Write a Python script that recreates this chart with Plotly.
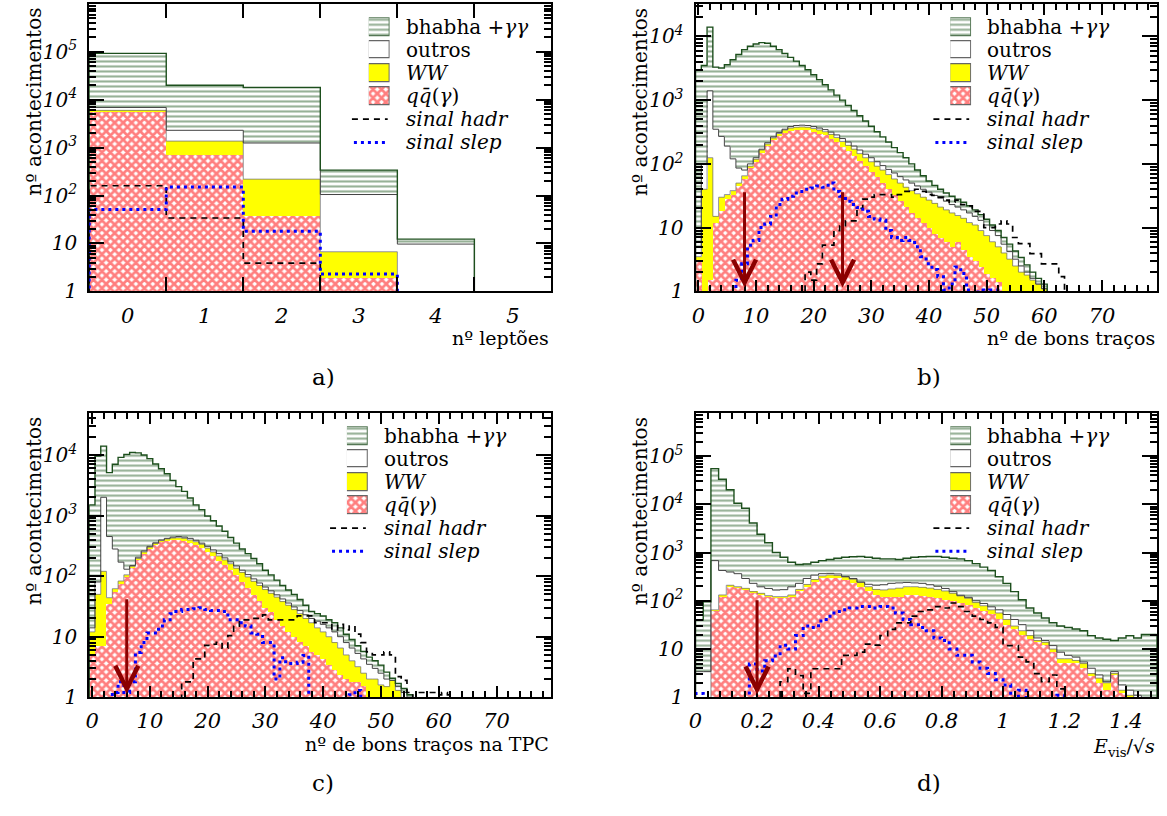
import numpy as np
import plotly.graph_objects as go

W, H = 1167, 816
FONT = "DejaVu Serif"

# ---------------- data ----------------
# panel a : number of leptons (bins 0..5)
a_lo, a_bw = -0.5, 1.0
a_bhabha = [93000, 20000, 18000, 340, 12.3, 0]
a_outros = [6900, 2300, 1250, 105, 9.7, 0]
a_ww = [6000, 1370, 220, 6.7, 0, 0]
a_qq = [5600, 690, 37, 1.9, 0, 0]
a_hadr = [160, 34, 3.9, 0, 0, 0]
a_slep = [51, 150, 18, 2.3, 0, 0]

# panel b : number of good tracks (bins 0..79)
b_lo, b_bw, b_n = -0.5, 1.0, 80
b_bhabha = [3000, 3500, 14000, 3300, 3200, 3600, 4300, 5200, 6200, 7000, 7600, 8000, 7800, 7000, 6200,
            5400, 4700, 4100, 3500, 3000, 2500, 2100, 1750, 1450, 1200, 1000, 830, 690, 570, 470, 390,
            320, 265, 220, 180, 150, 125, 100, 80, 65, 54, 46, 40, 35, 31, 28, 25, 22, 19, 16, 13.5,
            11, 9, 7, 5.5, 4.3, 3.4, 2.6, 2, 1.6, 1.3]
b_outros = [5, 100, 1400, 350, 270, 190, 120, 86, 80, 100, 125, 170, 215, 265, 310, 350, 385, 400, 405,
            400, 385, 365, 345, 315, 285, 250, 220, 190, 165, 142, 125, 108, 94, 82, 72, 63, 56, 50, 45,
            40, 36, 32, 29, 26, 23, 21, 19, 17, 15, 13, 11, 9, 7.5, 5.5, 4.2, 3.2, 2.5, 2, 1.6, 1.3, 1.1]
b_ww = [3.5, 40, 125, 15, 30, 33, 38, 50, 65, 92, 118, 165, 205, 255, 300, 340, 365, 375, 380, 375, 360,
        340, 320, 290, 260, 225, 195, 170, 145, 125, 108, 92, 80, 68, 58, 50, 43, 38, 34, 30, 27, 24, 21,
        19, 17, 15.5, 14, 12, 11, 9, 7.5, 6, 5, 4, 3.2, 2.5, 2, 1.8, 1.5, 1.3, 1.1]
b_qq = [3, 0, 1.5, 12, 18, 28, 33, 45, 58, 85, 108, 150, 190, 235, 275, 310, 330, 340, 345, 340, 320, 300,
        280, 250, 220, 185, 160, 135, 110, 92, 76, 62, 50, 40, 33, 26, 21, 17, 14, 12, 10, 8, 7, 6, 5, 6,
        4.5, 3.5, 3, 2.4, 1.9, 1.6, 1.4]
b_hadr = [0] * 19 + [2, 1.5, 2.7, 5.3, 5.3, 9, 10.7, 12.8, 12.8, 20, 28, 30, 33, 33, 33, 30, 33, 37, 37, 40,
                     37, 33, 32, 30, 27, 25, 27, 23, 22, 18, 18, 10, 10, 11.4, 12.8, 11.4, 7, 5.6, 5.6, 3.9,
                     3.9, 2.7, 2.7, 2.7, 1.7]
b_slep = [0] * 7 + [1.5, 2.7, 5.3, 6.3, 10, 11.4, 15, 23, 28, 31, 35, 37, 40, 42, 45, 43, 50, 37, 31, 26, 23,
                    20.6, 18, 15, 13.6, 13, 9, 7, 6.3, 7, 6.3, 5, 3.5, 2.7, 2.2, 1.7, 1.05, 1.3, 2.4, 1.9,
                    1.05, 0, 1.05, 0, 1.05, 1.05]
b_cuts = [8, 25]
b_cut_top = 38

# panel c : number of good TPC tracks (bins 0..79)
c_lo, c_bw, c_n = -0.5, 1.0, 80
c_bhabha = [1500, 9600, 14000, 5100, 7000, 9100, 10200, 11000, 10800, 10000, 8700, 7100, 5900, 4900, 3800,
            3000, 2500, 1950, 1500, 1250, 980, 820, 670, 550, 435, 350, 280, 235, 195, 160, 125, 105, 86,
            70, 59, 50, 41, 33, 26, 24, 22, 19, 17, 14, 11, 9, 7.1, 5.7, 4.6, 4, 3.4, 2.6, 2.06, 1.7, 1.4, 1.1]
c_outros = [14, 80, 2000, 450, 280, 170, 130, 150, 205, 260, 310, 355, 395, 420, 440, 450, 440, 420, 390,
            350, 310, 270, 235, 200, 172, 147, 125, 106, 90, 77, 66, 57, 49, 42, 36, 31, 27, 23, 20, 18, 16,
            14, 12, 10, 8, 6.5, 5.3, 4.3, 3.5, 3, 2.5, 2, 1.9, 1.5, 1.2, 1]
c_ww = [12, 50, 120, 44, 62, 83, 105, 145, 195, 250, 300, 345, 385, 410, 425, 430, 420, 395, 370, 335, 290,
        250, 215, 185, 160, 135, 115, 97, 82, 70, 60, 52, 45, 38, 33, 28, 24, 20, 17, 14, 12, 10, 8, 6.5, 5,
        4, 3.2, 2.5, 2, 2, 1.6, 1.5, 1.9, 1.3]
c_qq = [4.9, 7, 7, 35, 55, 75, 98, 133, 182, 235, 280, 320, 360, 385, 400, 400, 380, 350, 320, 290, 250, 215,
        180, 150, 125, 104, 81, 63, 49, 38, 30, 25, 19, 15, 12, 10, 8, 7.1, 5.6, 4.9, 4.2, 3.4, 2.8, 2.3, 2,
        1.8, 1.8, 1.5]
c_hadr = [0] * 16 + [1.8, 1.8, 4.3, 4.3, 7.2, 7.5, 8.1, 6.5, 10.4, 15, 19, 19, 20, 20, 23, 19, 19, 19, 19, 19,
                     22, 22, 22, 17, 17, 17, 13, 16, 13, 15, 11, 8, 5.6, 5, 5, 5.6, 5, 2.2, 1.9, 1.2, 0, 1.2,
                     1.2, 1.2, 1.1, 1.2, 1.1]
c_slep = [0] * 4 + [1.2, 1.8, 1.2, 1.8, 5.5, 8, 11.5, 11.5, 15, 19, 24, 26, 28, 28, 29, 30, 28, 27, 27, 26, 19,
                    19, 17, 15, 11.5, 11, 8, 8, 2, 4.5, 3.6, 3.6, 3.8, 4.9, 0, 0, 0, 0, 0, 0, 0, 1.1, 1.3]
c_cuts = [6]
c_cut_top = 44

# panel d : E_vis / sqrt(s) (bins of 0.025 from 0 to 1.5)
d_lo, d_bw, d_n = 0.0, 0.025, 60
d_bhabha = [40, 95, 55000, 33000, 20000, 10500, 8300, 4100, 2400, 1600, 1000, 800, 630, 565, 580, 630, 680,
            720, 760, 800, 820, 830, 800, 760, 740, 740, 720, 760, 800, 820, 830, 830, 800, 760, 740, 680,
            590, 500, 425, 315, 230, 155, 105, 71, 56, 44, 35, 30, 28, 26, 24, 19, 17, 16, 15, 17, 19, 17,
            20, 20]
d_outros = [3.4, 3.4, 680, 425, 395, 365, 290, 230, 195, 180, 167, 170, 195, 230, 290, 340, 365, 370, 360,
            320, 290, 245, 220, 210, 215, 230, 235, 240, 235, 230, 215, 200, 180, 155, 130, 118, 100, 88, 75,
            65, 52, 41, 32, 24, 17, 15, 11.8, 8.6, 7.4, 6.8, 5.4, 4, 2.9, 2.1, 3.4, 1.8, 1.4, 1.1]
d_ww = [0, 0, 65, 132, 210, 196, 181, 155, 143, 128, 122, 122, 132, 172, 218, 276, 328, 344, 334, 310, 280,
        240, 196, 172, 168, 176, 183, 196, 196, 190, 183, 172, 160, 143, 126, 113, 92, 79, 65, 56, 41, 30,
        24, 19, 15, 13.8, 10, 6.3, 6.3, 5.8, 5, 3.1, 2.5, 2.0, 3.1, 1.4, 1.1]
d_qq = [0, 0, 60, 122, 195, 180, 167, 143, 132, 122, 113, 113, 122, 155, 195, 247, 290, 300, 290, 270, 235,
        195, 155, 132, 120, 120, 122, 132, 132, 125, 122, 113, 105, 97, 90, 80, 71, 60, 52, 41, 32, 26, 19,
        16, 13.8, 11.8, 8.6, 5, 5, 5, 4, 2.7, 1.95, 1.4, 2.9, 1.2]
d_hadr = [0] * 11 + [2.1, 3.9, 2.8, 1.2, 3.9, 3.9, 3.9, 3.9, 7.4, 7.4, 8.6, 12.7, 12, 19, 25.6, 35, 35, 48,
                     60, 65, 76, 71, 90, 76, 60, 48, 41, 35, 28, 11.8, 11.8, 6.8, 5.4, 3.1, 2.1, 2.9, 1.5]
d_slep = [1.2, 0, 0, 0, 0, 0, 0, 4.9, 3.5, 5.7, 7.2, 12, 10, 19, 30, 28, 38, 48, 60, 65, 71, 76, 76, 71, 76,
          71, 56, 41, 32, 28, 24, 17, 15, 10, 7.4, 7.4, 5.4, 4, 3.1, 2.3, 1.8, 0, 1.4, 0, 0, 0, 0, 1.1]
d_cuts = [0.2]
d_cut_top = 110

# ---------------- styling ----------------
GREEN = "#2a5f2a"
GREEN_LINE = "#1d4f1d"
RED = "#ff0000"
YELLOW = "#ffff00"
ARROW = "#8b0000"
XTICKSIZE = 21
YTICKSIZE = 20


def px(x):
    return x / W


def py(y):
    return 1 - y / H


def pad(v, n):
    v = list(v)
    return v + [0] * (n - len(v))


def step_xy(edges, vals, floor=0.3):
    v = [x if x > 0 else floor for x in vals]
    xs = [edges[0]] + list(edges[:-1]) + [edges[-1]]
    ys = [floor] + v + [floor]
    return xs, ys


GREEN_PAT = dict(shape="-", fgcolor=GREEN, bgcolor="white", size=5, solidity=0.42)
RED_PAT = dict(shape="x", fgcolor=RED, bgcolor="white", size=6, solidity=0.7)

panels = [
    dict(key="a", lo=a_lo, bw=a_bw, n=6, data=(a_bhabha, a_outros, a_ww, a_qq, a_hadr, a_slep),
         xd=(82.7, 547.7), yd=(4, 295.7), xr=[-0.5, 5.5], yr=[0, 6.0], ymaxdec=5,
         xtitle="nº leptões", tdy=47, cuts=[], cut_top=None, legx=0, legy=0, ytx=27),
    dict(key="b", lo=b_lo, bw=b_bw, n=b_n, data=(b_bhabha, b_outros, b_ww, b_qq, b_hadr, b_slep),
         xd=(692.7, 1156.7), yd=(4, 295.7), xr=[-0.5, 79.5], yr=[0, 4.51], ymaxdec=4,
         xtitle="nº de bons traços", tdy=47, cuts=b_cuts, cut_top=b_cut_top, legx=585, legy=0, ytx=637),
    dict(key="c", lo=c_lo, bw=c_bw, n=c_n, data=(c_bhabha, c_outros, c_ww, c_qq, c_hadr, c_slep),
         xd=(82.7, 547.7), yd=(419.3, 707.7), xr=[-0.5, 79.5], yr=[0, 4.69], ymaxdec=4,
         xtitle="nº de bons traços na TPC", tdy=47, cuts=c_cuts, cut_top=c_cut_top, legx=-22, legy=415,
         ytx=27),
    dict(key="d", lo=d_lo, bw=d_bw, n=d_n, data=(d_bhabha, d_outros, d_ww, d_qq, d_hadr, d_slep),
         xd=(692.7, 1156.7), yd=(419.3, 707.7), xr=[0, 1.5], yr=[0, 5.89], ymaxdec=5,
         xtitle="<i>E</i><sub>vis</sub>/√<i>s</i>", tdy=51, cuts=d_cuts, cut_top=d_cut_top, legx=585,
         legy=415, ytx=637),
]

fig = go.Figure()
layout = dict(width=W, height=H, margin=dict(l=0, r=0, t=0, b=0), paper_bgcolor="white",
              plot_bgcolor="white", barmode="overlay", bargap=0, showlegend=False,
              font=dict(family=FONT, color="black"))
annotations = []
shapes = []

minor_y = [k * 10 ** e for e in range(0, 7) for k in range(2, 10)]

for i, p in enumerate(panels):
    idx = i + 1
    xa = "x" if idx == 1 else f"x{idx}"
    ya = "y" if idx == 1 else f"y{idx}"
    n = p["n"]
    edges = p["lo"] + p["bw"] * np.arange(n + 1)
    centers = edges[:-1] + p["bw"] / 2
    bh, ou, ww, qq, hadr, slep = [pad(v, n) for v in p["data"]]

    levels = [
        (bh, dict(color="white", pattern=GREEN_PAT)),
        (ou, dict(color="white")),
        (ww, dict(color=YELLOW)),
        (qq, dict(color="white", pattern=RED_PAT)),
    ]
    for vals, mk in levels:
        mk = dict(mk)
        mk["line"] = dict(width=0)
        fig.add_trace(go.Bar(x=centers, y=[v if v > 0 else None for v in vals], width=p["bw"],
                             marker=mk, xaxis=xa, yaxis=ya, hoverinfo="skip"))
    for vals, col, wd in [(ww, "#777777", 0.8), (ou, "#444444", 1.0), (bh, GREEN_LINE, 1.4)]:
        xs, ys = step_xy(edges, vals)
        fig.add_trace(go.Scatter(x=xs, y=ys, mode="lines", line=dict(shape="hv", color=col, width=wd),
                                 xaxis=xa, yaxis=ya, hoverinfo="skip"))
    xs, ys = step_xy(edges, hadr)
    fig.add_trace(go.Scatter(x=xs, y=ys, mode="lines",
                             line=dict(shape="hv", color="black", width=1.7, dash="6px,5px"),
                             xaxis=xa, yaxis=ya, hoverinfo="skip"))
    xs, ys = step_xy(edges, slep)
    fig.add_trace(go.Scatter(x=xs, y=ys, mode="lines",
                             line=dict(shape="hv", color="#0000ff", width=3, dash="3px,4px"),
                             xaxis=xa, yaxis=ya, hoverinfo="skip"))

    # axes
    xdom = [px(p["xd"][0]), px(p["xd"][1])]
    ydom = [py(p["yd"][1]), py(p["yd"][0])]
    if p["key"] == "a":
        xax = dict(tickvals=list(range(6)), ticktext=[f"<i>{k}</i>" for k in range(6)], ticks="",
                   minor=dict(tickvals=[0.5, 1.5, 2.5, 3.5, 4.5], ticks="inside", ticklen=14,
                              tickwidth=2, tickcolor="black"))
    elif p["key"] == "d":
        tv = [0, 0.2, 0.4, 0.6, 0.8, 1.0, 1.2, 1.4]
        xax = dict(tickvals=tv, ticktext=["<i>0</i>", "<i>0.2</i>", "<i>0.4</i>", "<i>0.6</i>", "<i>0.8</i>",
                                          "<i>1</i>", "<i>1.2</i>", "<i>1.4</i>"],
                   ticks="inside", ticklen=11, tickwidth=2,
                   minor=dict(dtick=0.04, tick0=0, ticks="inside", ticklen=6, tickwidth=1.5,
                              tickcolor="black"))
    else:
        tv = list(range(0, 80, 10))
        xax = dict(tickvals=tv, ticktext=[f"<i>{k}</i>" for k in tv], ticks="inside", ticklen=11,
                   tickwidth=2, minor=dict(dtick=2, tick0=0, ticks="inside", ticklen=6, tickwidth=1.5,
                                          tickcolor="black"))
    xax.update(domain=xdom, range=p["xr"], anchor=ya, showline=True, linecolor="black", linewidth=2,
               mirror="ticks", tickcolor="black", showgrid=False, zeroline=False,
               tickfont=dict(family=FONT, size=XTICKSIZE), ticklabelstandoff=4)
    yv = [10 ** e for e in range(0, p["ymaxdec"] + 1)]
    yt = ["<i>1</i>", "<i>10</i>"] + [f"<i>10<sup>{e}</sup></i>" for e in range(2, p["ymaxdec"] + 1)]
    yax = dict(type="log", domain=ydom, range=p["yr"], anchor=xa, tickvals=yv, ticktext=yt,
               ticks="inside", ticklen=15, tickwidth=2, tickcolor="black",
               minor=dict(tickvals=minor_y, ticks="inside", ticklen=7, tickwidth=1.5, tickcolor="black"),
               showline=True, linecolor="black", linewidth=2, mirror="ticks", showgrid=False,
               zeroline=False, tickfont=dict(family=FONT, size=YTICKSIZE), ticklabelstandoff=6)
    layout["xaxis" if idx == 1 else f"xaxis{idx}"] = xax
    layout["yaxis" if idx == 1 else f"yaxis{idx}"] = yax

    # cut arrows
    for c in p["cuts"]:
        annotations.append(dict(x=c, y=0.06, ax=c, ay=np.log10(p["cut_top"]), xref=xa, yref=ya,
                                axref=xa, ayref=ya, text="", showarrow=True, arrowhead=5, arrowsize=1.5,
                                arrowwidth=3, arrowcolor=ARROW, standoff=0))

    # axis titles & panel label
    annotations.append(dict(x=px(p["xd"][1]), y=py(p["yd"][1] + p["tdy"]), xref="paper", yref="paper",
                            text=p["xtitle"], showarrow=False, xanchor="right", yanchor="middle",
                            font=dict(family=FONT, size=19)))
    annotations.append(dict(x=px(p["ytx"]), y=py(p["yd"][0] + 2), xref="paper", yref="paper",
                            text="nº acontecimentos", showarrow=False, textangle=-90, xanchor="center",
                            yanchor="top", font=dict(family=FONT, size=20)))
    annotations.append(dict(x=px((p["xd"][0] + p["xd"][1]) / 2 + 3), y=py(p["yd"][1] + 87), xref="paper",
                            yref="paper", text=p["key"] + ")", showarrow=False, xanchor="center",
                            yanchor="middle", font=dict(family=FONT, size=23)))

    # legend (hand-drawn)
    lx, ly = p["legx"], p["legy"]
    rows = [27.5, 50.5, 74, 97.5, 121, 144.5]
    labels = ["bhabha +<i>γγ</i>", "outros", "<i>WW</i>", "<i>q</i><i>q̄</i>(<i>γ</i>)",
              "<i>sinal hadr</i>", "<i>sinal slep</i>"]
    for r, lab in zip(rows, labels):
        annotations.append(dict(x=px(399 + lx), y=py(r + ly), xref="paper", yref="paper", text=lab,
                                showarrow=False, xanchor="left", yanchor="middle",
                                font=dict(family=FONT, size=20)))
    shapes.append(dict(type="line", xref="paper", yref="paper", x0=px(347 + lx), x1=px(383 + lx),
                       y0=py(rows[4] + ly), y1=py(rows[4] + ly), line=dict(color="black", width=1.7,
                                                                          dash="6px,5px")))
    shapes.append(dict(type="line", xref="paper", yref="paper", x0=px(349 + lx), x1=px(383 + lx),
                       y0=py(rows[5] + ly), y1=py(rows[5] + ly), line=dict(color="#0000ff", width=3,
                                                                          dash="3px,4px")))
    lidx = idx + 4
    lxa, lya = f"x{lidx}", f"y{lidx}"
    layout[f"xaxis{lidx}"] = dict(domain=[px(364 + lx), px(385 + lx)], range=[0, 1], visible=False,
                                  anchor=lya, fixedrange=True)
    top, bot = rows[0] - 10 + ly, rows[3] + 10 + ly
    layout[f"yaxis{lidx}"] = dict(domain=[py(bot), py(top)], range=[bot, top], visible=False, anchor=lxa,
                                  fixedrange=True)
    sw = [
        dict(color="white", pattern=GREEN_PAT, line=dict(color="#557755", width=1.2)),
        dict(color="white", line=dict(color="#666666", width=1.2)),
        dict(color=YELLOW, line=dict(color="#666666", width=1.2)),
        dict(color="white", pattern=RED_PAT, line=dict(color="#666666", width=1.2)),
    ]
    for r, mk in zip(rows[:4], sw):
        fig.add_trace(go.Bar(x=[0.5], y=[18], base=[r + ly - 9], width=[1.0], marker=mk, xaxis=lxa,
                             yaxis=lya, hoverinfo="skip"))

layout["annotations"] = annotations
layout["shapes"] = shapes
fig.update_layout(**layout)
fig.write_html("out.html")
